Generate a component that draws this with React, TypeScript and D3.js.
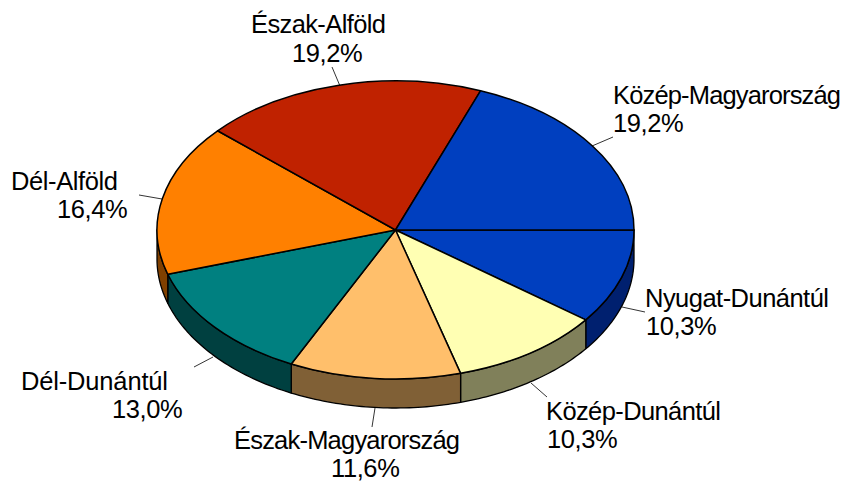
import React from 'react';
import * as d3 from 'd3';

const regions = ['Nyugat-Dunántúl', 'Közép-Dunántúl', 'Észak-Magyarország', 'Dél-Dunántúl', 'Dél-Alföld', 'Észak-Alföld', 'Közép-Magyarország'];
const shares = [10.3, 10.3, 11.6, 13.0, 16.4, 19.2, 19.2];
const topColors = ['#003FBF', '#FFFFB3', '#FFBF6B', '#008080', '#FF8000', '#C02200', '#003FBF'];
const sideColors = ['#00206F', '#80805A', '#806036', '#004040', '#804000', '#601100', '#00206F'];

// label placement: [name x, name baseline, value x, value baseline], leader line [x1, y1, x2, y2]
const labelPos = [
  [645, 307, 646, 335],
  [546, 420, 547, 448],
  [234, 449, 331, 477],
  [21, 390, 112, 418],
  [11, 190, 57, 218],
  [251, 33, 292, 62],
  [613, 104, 613, 132],
];
const nameWidths = [184, 175, 226, 147, 107, 135, 228];
const leaders = [
  [645, 312, 622, 307],
  [547, 397, 531, 383],
  [372, 427, 375, 408],
  [194, 367, 213, 357],
  [139, 195, 162, 199],
  [332, 67, 340, 86],
  [613, 137, 592, 146],
];

const width = 845;
const height = 483;
const cx = 395.5;
const cy = 230;
const rx = 238.5;
const ry = 149;
const depth = 29;

const fmt = (v: number) => v.toFixed(1).replace('.', ',') + '%';

export default function App() {
  // angles run clockwise from 3 o'clock, d3.arc measures from 12 o'clock
  const pie = d3.pie<number>().sort(null).startAngle(Math.PI / 2).endAngle(Math.PI / 2 + 2 * Math.PI);
  const slices = pie(shares);
  const arc = d3.arc<d3.PieArcDatum<number>>().innerRadius(0).outerRadius(rx);

  const px = (a: number) => cx + rx * Math.sin(a);
  const py = (a: number) => cy - ry * Math.cos(a);
  const edge = d3.line<number>().x(px).y(py);

  const visStart = Math.PI / 2;
  const visEnd = (3 * Math.PI) / 2;

  const sides = slices
    .map((s, i) => {
      const a0 = Math.max(s.startAngle, visStart);
      const a1 = Math.min(s.endAngle, visEnd);
      if (a1 <= a0) return null;
      const pts = d3.range(0, 41).map((k) => a0 + ((a1 - a0) * k) / 40);
      const upper = edge(pts) as string;
      const lower = d3.line<number>().x(px).y((a) => py(a) + depth)(pts.slice().reverse()) as string;
      return { key: i, d: upper + 'L' + lower.slice(1) + 'Z' };
    })
    .filter(Boolean) as { key: number; d: string }[];

  return (
    <svg width={width} height={height} style={{ position: 'absolute', left: 0, top: 0, background: '#fff' }}>
      <g stroke="#000" strokeWidth={1.3} strokeLinejoin="round">
        {sides.map((s) => (
          <path key={s.key} d={s.d} fill={sideColors[s.key]} />
        ))}
      </g>
      <g transform={`translate(${cx},${cy}) scale(1,${ry / rx})`}>
        {slices.map((s, i) => (
          <path key={i} d={arc(s) as string} fill={topColors[i]} stroke="#000" strokeWidth={1.5} strokeLinejoin="round" vectorEffect="non-scaling-stroke" />
        ))}
      </g>
      <g stroke="#000" strokeWidth={0.8}>
        {leaders.map((l, i) => (
          <line key={i} x1={l[0]} y1={l[1]} x2={l[2]} y2={l[3]} />
        ))}
      </g>
      <g fontFamily="'Liberation Sans', Arial, sans-serif" fontSize={25.5} fill="#000">
        {regions.map((r, i) => (
          <g key={r}>
            <text x={labelPos[i][0]} y={labelPos[i][1]} textLength={nameWidths[i]} lengthAdjust="spacing">{r}</text>
            <text x={labelPos[i][2]} y={labelPos[i][3]} letterSpacing={-0.4}>{fmt(shares[i])}</text>
          </g>
        ))}
      </g>
    </svg>
  );
}
